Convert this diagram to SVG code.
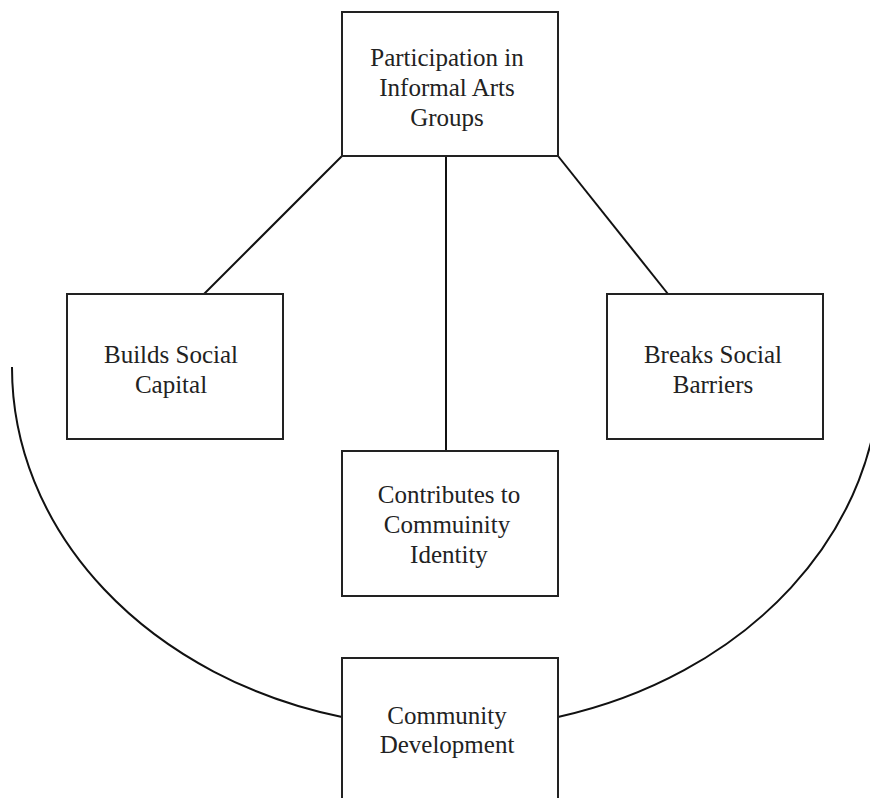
<svg xmlns="http://www.w3.org/2000/svg" width="870" height="798" viewBox="0 0 870 798">
<style>
.box{fill:#fff;stroke:#222;stroke-width:2}
.ln{fill:none;stroke:#111;stroke-width:2}
.t{font-family:'Liberation Serif','Times New Roman',serif;font-size:25px;fill:#222;text-anchor:middle}
</style>
<rect width="870" height="798" fill="#fff"/>
<g id="connectors">
<line class="ln" x1="342" y1="156" x2="204" y2="294"/>
<line class="ln" x1="446" y1="156" x2="446" y2="451"/>
<line class="ln" x1="558" y1="156" x2="668" y2="294"/>
<path class="ln" d="M12,367 A434,360 0 0 0 342,717"/>
<path class="ln" d="M558,717 A434,360 0 0 0 880,367"/>
</g>
<g id="participation">
<rect class="box" x="342" y="12" width="216" height="144"/>
<text class="t" x="447" y="66">Participation in</text>
<text class="t" x="447" y="96">Informal Arts</text>
<text class="t" x="447" y="126">Groups</text>
</g>
<g id="social-capital">
<rect class="box" x="67" y="294" width="216" height="145"/>
<text class="t" x="171" y="363">Builds Social</text>
<text class="t" x="171" y="393">Capital</text>
</g>
<g id="social-barriers">
<rect class="box" x="607" y="294" width="216" height="145"/>
<text class="t" x="713" y="363">Breaks Social</text>
<text class="t" x="713" y="393">Barriers</text>
</g>
<g id="community-identity">
<rect class="box" x="342" y="451" width="216" height="145"/>
<text class="t" x="449" y="503">Contributes to</text>
<text class="t" x="447" y="533">Commuinity</text>
<text class="t" x="449" y="563">Identity</text>
</g>
<g id="community-development">
<rect class="box" x="342" y="658" width="216" height="160"/>
<text class="t" x="447" y="724">Community</text>
<text class="t" x="447" y="753">Development</text>
</g>
</svg>
